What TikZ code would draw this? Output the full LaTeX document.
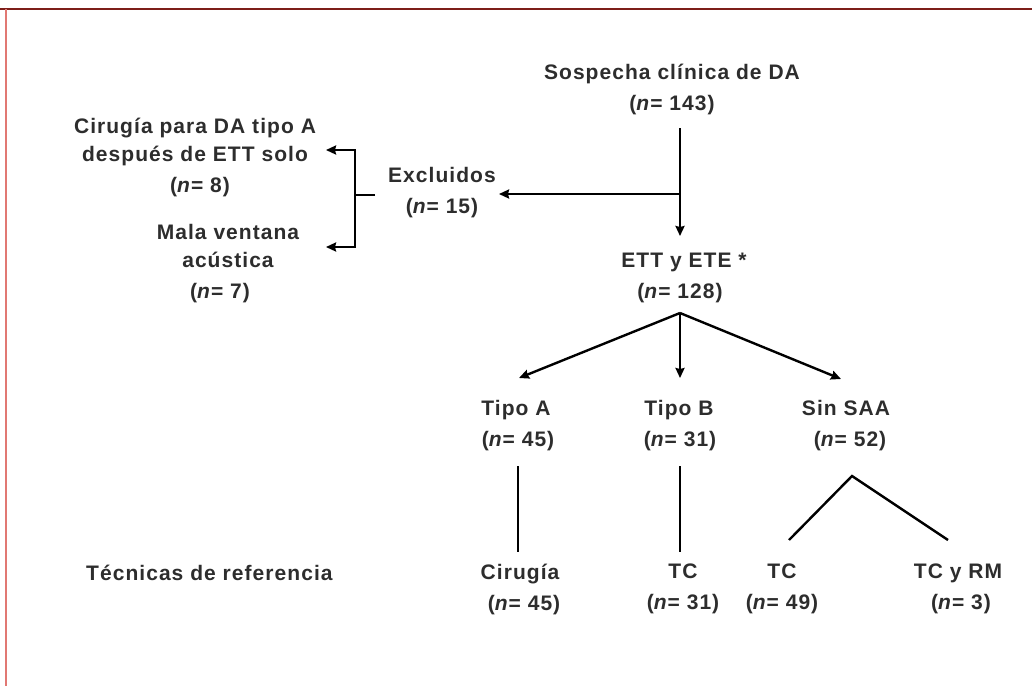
\documentclass[tikz,border=0pt]{standalone}
\usepackage{fontspec}
\setmainfont{Liberation Sans}[LetterSpace=5]
\usetikzlibrary{arrows.meta}
\definecolor{topred}{RGB}{125,30,25}
\definecolor{leftred}{RGB}{225,120,115}
\definecolor{txt}{RGB}{45,45,45}
\begin{document}
\begin{tikzpicture}[x=1pt,y=-1pt,
  lbl/.style={align=center, font=\bfseries\fontsize{21}{28}\selectfont, inner sep=0pt, text=txt},
  lbw/.style={lbl, font=\bfseries\fontsize{21}{31}\selectfont},
  ln/.style={line width=2.4pt, black},
  arr/.style={ln, -{Stealth[length=10pt,width=9pt,inset=1pt]}}]
\useasboundingbox (0,0) rectangle (1032,686);
\fill[white] (0,0) rectangle (1032,686);
\draw[line width=2.5pt, topred] (0,9) -- (1032,9);
\draw[line width=1.5pt, leftred] (6,9) -- (6,686);

% nodes
\node[lbw] (sosp) at (672,89) {Sospecha clínica de DA\\(\textit{n}= 143)};
\node[lbw] (excl) at (442,193) {Excluidos\\(\textit{n}= 15)};
\node[lbl] (cir) at (195,157) {Cirugía para DA tipo A\\después de ETT solo\\[3pt]\hspace*{10pt}(\textit{n}= 8)};
\node[lbl] (mala) at (228,264) {Mala ventana\\acústica\\[3pt]\hspace*{-16pt}(\textit{n}= 7)};
\node[lbw] (ette) at (684,278) {ETT y ETE *\\\hspace*{-8pt}(\textit{n}= 128)};
\node[lbw] (tipoa) at (516,426) {Tipo A\\\hspace*{4pt}(\textit{n}= 45)};
\node[lbw] (tipob) at (679,426) {Tipo B\\\hspace*{2pt}(\textit{n}= 31)};
\node[lbw] (sinsaa) at (846,426) {Sin SAA\\\hspace*{8pt}(\textit{n}= 52)};
\node[lbl, anchor=west] (tecn) at (86,573) {Técnicas de referencia};
\node[lbw] (cirug) at (520,589) {Cirugía\\\hspace*{8pt}(\textit{n}= 45)};
\node[lbw] (tc1) at (683,589) {TC\\(\textit{n}= 31)};
\node[lbw] (tc2) at (782,589) {TC\\(\textit{n}= 49)};
\node[lbw] (tcrm) at (958,589) {TC y RM\\\hspace*{6pt}(\textit{n}= 3)};

% coordinates
\coordinate (s0) at (680,128);
\coordinate (j1) at (680,194);
\coordinate (e0) at (680,236);
\coordinate (x0) at (499,194);
\coordinate (b0) at (375,195);
\coordinate (bt) at (355,150);
\coordinate (bb) at (355,247);
\coordinate (bm) at (355,195);
\coordinate (ct) at (326,150);
\coordinate (mt) at (326,247);
\coordinate (j2) at (680,313);
\coordinate (ta) at (519,378);
\coordinate (tb) at (680,378);
\coordinate (ts) at (841,379);
\coordinate (a1) at (518,466);
\coordinate (a2) at (518,552);
\coordinate (b1) at (680,466);
\coordinate (b2) at (680,552);
\coordinate (c0) at (852,476);
\coordinate (c1) at (789,540);
\coordinate (c2) at (948,540);

% connectors
\draw[arr] (s0) -- (e0);
\draw[arr] (j1) -- (x0);
\draw[ln] (b0) -- (bm);
\draw[arr] ([xshift=1.2pt]bt) -- (ct);
\draw[arr] ([xshift=1.2pt]bb) -- (mt);
\draw[ln] ([yshift=-1.2pt]bt) -- ([yshift=1.2pt]bb);
\draw[arr] (j2) -- (ta);
\draw[arr] (j2) -- (tb);
\draw[arr] (j2) -- (ts);
\draw[ln] (a1) -- (a2);
\draw[ln] (b1) -- (b2);
\draw[ln, line join=miter] (c1) -- (c0) -- (c2);
\end{tikzpicture}
\end{document}
